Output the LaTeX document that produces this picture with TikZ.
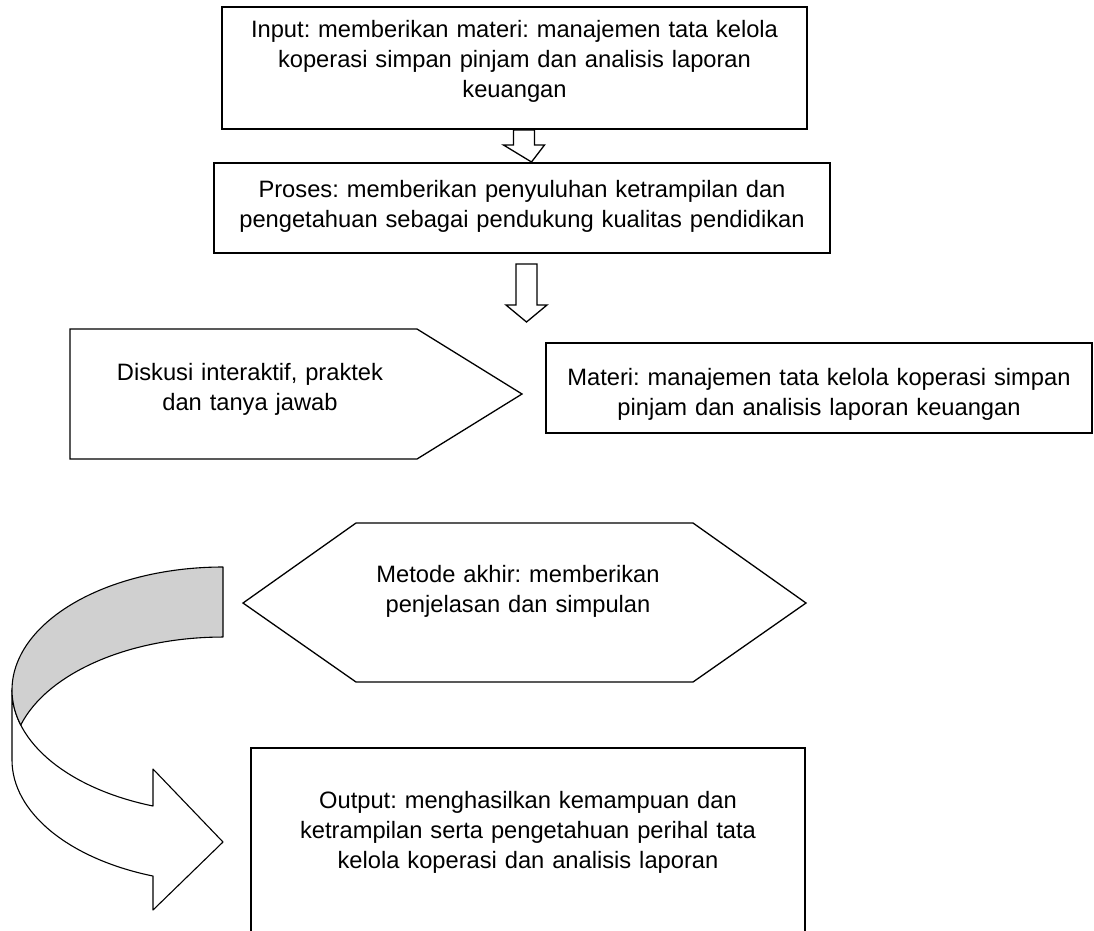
\documentclass[tikz,border=0pt]{standalone}
\usepackage{fontspec}
\setmainfont{Liberation Sans}
\usetikzlibrary{calc}
\frenchspacing
\newlength{\boxlw}
\setlength{\boxlw}{2pt}
\newlength{\shapelw}
\setlength{\shapelw}{1.3pt}
\definecolor{bandcolor}{RGB}{208,208,208}
\tikzset{box/.style={draw, line width=\boxlw, rectangle, inner sep=0pt, align=center, font=\fontsize{23.7}{30}\selectfont}}
\tikzset{plaintext/.style={inner sep=0pt, align=center, font=\fontsize{23.7}{30}\selectfont}}
\tikzset{shapeline/.style={draw, line width=\shapelw, line join=miter}}
\tikzset{band/.style={draw, line width=1.1pt, line join=round}}
\tikzset{blockarrow/.style={draw, fill=white, line width=1.3pt, line join=miter, to path={let \p1=(\tikztostart), \p2=(\tikztotarget) in (\x1-10.5pt,\y1) -- (\x1-10.5pt,\y2+17pt) -- (\x1-20.5pt,\y2+17pt) -- (\x2,\y2) -- (\x1+20.5pt,\y2+17pt) -- (\x1+10.5pt,\y2+17pt) -- (\x1+10.5pt,\y1) -- cycle}}}

\begin{document}
\begin{tikzpicture}[x=1pt, y=-1pt]
	\useasboundingbox (0,0) rectangle (1094,930);
	
	%%% SHAPES %%%
	
	% DISKUSI (pentagon)
	\draw[shapeline] (70,329) -- (417,329) -- (522,394) -- (417,459) -- (70,459) -- cycle;
	
	% METODE (hexagon)
	\draw[shapeline] (243,603) -- (356,523) -- (693,523) -- (806,603) -- (693,682) -- (356,682) -- cycle;
	
	% CURVED ARROW
	\draw[band, fill=white] (12,690) -- (12,760) arc[start angle=180, end angle=109.38, x radius=211, y radius=123] -- (153,910) -- (223,842) -- (153,769) -- (153,806) arc[start angle=109.38, end angle=180, x radius=211, y radius=123] -- cycle;
	\draw[band, fill=bandcolor] (223,567) arc[start angle=270, end angle=163.46, x radius=211, y radius=123] arc[start angle=196.54, end angle=270, x radius=211, y radius=123] -- cycle;
	
	%%% NODES %%%
	
	% INPUT
	\node[box, minimum width=585pt, text width=570pt, text height=30pt, text depth=92pt] at (514.5,68) (input) {Input: memberikan materi: manajemen tata kelola\\ koperasi simpan pinjam dan analisis laporan\\ keuangan};
	
	% PROSES
	\node[box, minimum width=616pt, text width=600pt, text height=34pt, text depth=56pt] at (522,208) (proses) {Proses: memberikan penyuluhan ketrampilan dan\\ pengetahuan sebagai pendukung kualitas pendidikan};
	
	% DISKUSI + MATERI
	\node[plaintext, text width=300pt, text height=51pt, text depth=79pt] at (250,394) (diskusi) {Diskusi interaktif, praktek\\ dan tanya jawab};
	\node[box, minimum width=546pt, text width=530pt, text height=42pt, text depth=48pt] at (819,388) (materi) {Materi: manajemen tata kelola koperasi simpan\\ pinjam dan analisis laporan keuangan};
	
	% METODE
	\node[plaintext, text width=350pt, text height=59pt, text depth=100pt] at (518,602.5) (metode) {Metode akhir: memberikan\\ penjelasan dan simpulan};
	
	% OUTPUT
	\node[box, minimum width=554pt, text width=540pt, text height=60pt, text depth=125pt] at (528,840.5) (output) {Output: menghasilkan kemampuan dan\\ ketrampilan serta pengetahuan perihal tata\\ kelola koperasi dan analisis laporan};
	
	%%% EXTRA ARROW NODES %%%
	\coordinate (split) at (526.5,322);
	
	%%% ARROWS %%%
	\draw[blockarrow] ([xshift=9.5pt]input.south) to ([xshift=9.5pt]proses.north);
	\draw[blockarrow] ([shift={(4.5,10)}]proses.south) to (split);
	
\end{tikzpicture}
\end{document}
